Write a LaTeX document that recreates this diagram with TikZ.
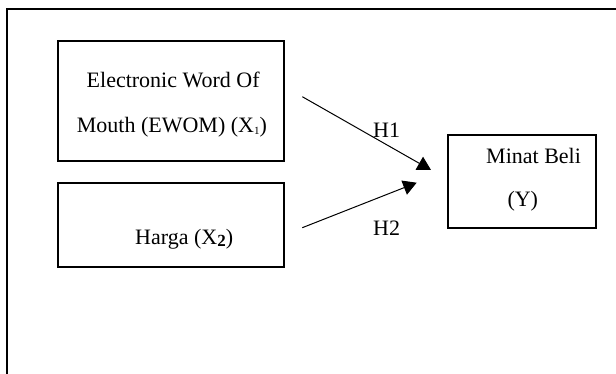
\documentclass[tikz,border=0pt]{standalone}
\usepackage{fontspec}
\setmainfont{Liberation Serif}
\usetikzlibrary{arrows.meta}
\begin{document}
\begin{tikzpicture}[x=1pt,y=-1pt,
  frame/.style={line width=2pt},
  box/.style={draw, line width=2pt, rectangle, inner sep=0pt},
  txt/.style={anchor=base west, inner sep=0pt, font=\fontsize{22}{26}\selectfont},
  conn/.style={line width=1pt, -{Triangle[length=13.5pt,width=15pt]}}]
\useasboundingbox[fill=white] (0,0) rectangle (616,374);
% outer frame (cut off at right and bottom)
\draw[frame] (7,380) -- (7,9.3) -- (620,9.3);
% boxes
\node[box, minimum width=226pt, minimum height=120pt] (b1) at (171,101.5) {};
\node[box, minimum width=226pt, minimum height=84pt] (b2) at (171,225) {};
\node[box, minimum width=148pt, minimum height=93.5pt] (b3) at (522,181.75) {};
% texts
\node[txt] (t1a) at (86.5,88) {Electronic Word Of};
\node[txt] (t1b) at (76.7,132.7) {Mouth (EWOM) (X\raisebox{-2pt}{\fontsize{11}{11}\selectfont 1})};
\node[txt] (t2) at (135,244) {Harga (X\raisebox{-2pt}{\fontsize{17}{17}\selectfont\bfseries 2})};
\node[txt] (t3a) at (486,163.3) {Minat Beli};
\node[txt] (t3b) at (507.3,206.5) {(Y)};
% connectors
\coordinate (a1s) at (302.3,96.7);
\coordinate (a1e) at (431,170);
\coordinate (a2s) at (302.3,227.7);
\coordinate (a2e) at (416.7,182.7);
\draw[conn] (a1s) -- (a1e);
\draw[conn] (a2s) -- (a2e);
% labels
\node[txt] (h1) at (373,137.3) {H1};
\node[txt] (h2) at (373,236) {H2};
\end{tikzpicture}
\end{document}
